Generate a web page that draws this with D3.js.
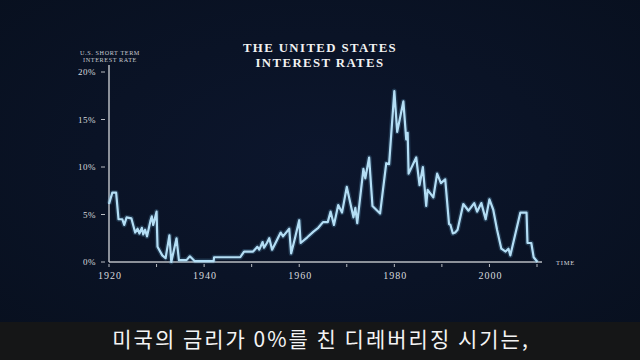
<!DOCTYPE html>
<html><head><meta charset="utf-8">
<script src="https://cdn.jsdelivr.net/npm/d3@7"></script>
<style>
html,body{margin:0;padding:0;background:#0a1326;}
svg{display:block;}
</style></head>
<body>
<svg id="c" width="640" height="360"></svg>
<script>
const years = [1920.0,1920.7,1921.5,1922.0,1922.8,1923.2,1923.7,1924.7,1925.5,1926.0,1926.4,1926.9,1927.2,1927.6,1928.0,1928.7,1929.0,1929.3,1930.0,1930.2,1931.2,1931.9,1932.7,1933.1,1934.2,1934.7,1936.3,1937.0,1938.0,1942.0,1942.1,1947.6,1948.4,1950.3,1951.2,1951.6,1952.3,1952.6,1953.2,1953.7,1954.3,1955.3,1956.1,1956.6,1957.9,1958.3,1959.1,1960.0,1960.3,1961.7,1963.0,1964.0,1965.0,1966.0,1966.6,1967.3,1968.2,1969.0,1970.0,1971.4,1971.8,1972.2,1973.5,1973.9,1974.7,1975.4,1977.0,1978.3,1978.9,1980.0,1980.6,1981.9,1982.5,1982.8,1983.0,1984.6,1985.3,1986.0,1986.7,1987.0,1988.2,1989.0,1989.8,1990.7,1991.5,1991.8,1992.3,1992.8,1993.3,1994.5,1995.6,1996.8,1997.4,1998.3,1999.2,2000.0,2000.8,2001.6,2002.5,2003.4,2004.0,2004.4,2006.5,2007.8,2008.0,2008.8,2009.3,2010.1];
const rates = [6.1,7.3,7.3,4.5,4.5,3.9,4.7,4.6,3.1,3.5,3.0,3.6,2.9,3.4,2.7,4.3,4.8,3.9,5.3,1.6,0.7,0.4,2.8,0.0,2.5,0.2,0.2,0.6,0.1,0.1,0.5,0.5,1.1,1.1,1.6,1.3,2.1,1.5,2.0,2.5,1.3,2.3,3.1,2.7,3.5,0.9,2.5,4.4,2.0,2.6,3.2,3.6,4.2,4.2,5.3,3.9,6.0,5.2,7.9,4.7,5.7,4.1,9.8,8.8,11.0,5.9,5.1,10.4,10.3,18.0,13.7,16.9,12.9,13.6,9.3,11.0,8.1,10.0,5.9,7.6,6.8,9.3,8.3,8.7,4.0,3.9,3.0,3.1,3.4,6.1,5.4,6.2,5.3,6.2,4.5,6.6,5.5,3.4,1.4,1.1,1.4,0.7,5.2,5.2,2.0,2.0,0.5,0.0];
const xTicks = [1920,1930,1940,1950,1960,1970,1980,1990,2000,2010];
const xLabels = [1920,1940,1960,1980,2000];
const yTicks = [0,5,10,15,20];
const titleLines = ["THE UNITED STATES","INTEREST RATES"];
const yTitleLines = ["U.S. SHORT TERM","INTEREST RATE"];
const xTitle = "TIME";
const subtitle = "미국의 금리가 0%를 친 디레버리징 시기는,";

const svg = d3.select("#c");
const bg = svg.append("defs").append("radialGradient").attr("id","bg").attr("cx","50%").attr("cy","45%").attr("r","70%");
bg.append("stop").attr("offset","0%").attr("stop-color","#0c162d");
bg.append("stop").attr("offset","100%").attr("stop-color","#08101f");
svg.append("rect").attr("width",640).attr("height",360).attr("fill","url(#bg)");

const x = d3.scaleLinear().domain([1920,2010]).range([109,537]);
const y = d3.scaleLinear().domain([0,20]).range([262,72]);
const serif = "'Liberation Serif','DejaVu Serif',serif";

// axes lines
svg.append("line").attr("x1",109).attr("x2",109).attr("y1",65).attr("y2",262).attr("stroke","#b9bcc2").attr("stroke-width",1.5);
svg.append("line").attr("x1",109).attr("x2",542).attr("y1",262).attr("y2",262).attr("stroke","#b9bcc2").attr("stroke-width",1.5);

// y ticks
const yg = svg.append("g");
yg.selectAll("line").data(yTicks).join("line")
  .attr("x1",101).attr("x2",105).attr("y1",d=>y(d)).attr("y2",d=>y(d))
  .attr("stroke","#b9bcc2").attr("stroke-width",1);
yg.selectAll("text").data(yTicks).join("text")
  .attr("x",96).attr("y",d=>y(d)).attr("dy","0.35em").attr("text-anchor","end")
  .attr("font-family",serif).attr("font-size",9).attr("fill","#d8dade").attr("letter-spacing",0.5)
  .text(d=>d+"%");

// x ticks
const xg = svg.append("g");
xg.selectAll("line").data(xTicks).join("line")
  .attr("x1",d=>x(d)).attr("x2",d=>x(d)).attr("y1",264).attr("y2",267)
  .attr("stroke","#b9bcc2").attr("stroke-width",1);
xg.selectAll("text").data(xLabels).join("text")
  .attr("x",d=>x(d)+1).attr("y",279).attr("text-anchor","middle")
  .attr("font-family",serif).attr("font-size",10).attr("fill","#d8dade").attr("letter-spacing",1)
  .text(d=>d);

svg.append("text").attr("x",556).attr("y",265).attr("font-family",serif).attr("font-size",6.5)
  .attr("fill","#d8dade").attr("letter-spacing",0.8).text(xTitle);

// titles
svg.selectAll("text.t").data(titleLines).join("text").attr("class","t")
  .attr("x",320).attr("y",(d,i)=>52+i*15).attr("text-anchor","middle")
  .attr("font-family",serif).attr("font-weight","bold").attr("font-size",12.8)
  .attr("letter-spacing",1.4).attr("fill","#f2f2f2").text(d=>d);
svg.selectAll("text.yt").data(yTitleLines).join("text").attr("class","yt")
  .attr("x",110).attr("y",(d,i)=>55+i*7).attr("text-anchor","middle")
  .attr("font-family",serif).attr("font-size",6.2).attr("letter-spacing",0.6)
  .attr("fill","#c9ccd2").text(d=>d);

// line
const pts = years.map((yr,i)=>[yr,rates[i]]);
const line = d3.line().x(d=>x(d[0])).y(d=>y(d[1]));
svg.append("path").datum(pts).attr("d",line).attr("fill","none")
  .attr("stroke","#6fb4e0").attr("stroke-opacity",0.22).attr("stroke-width",5).attr("stroke-linejoin","round");
svg.append("path").datum(pts).attr("d",line).attr("fill","none")
  .attr("stroke","#b4def5").attr("stroke-width",2.2).attr("stroke-linejoin","round");

// subtitle band
svg.append("rect").attr("x",0).attr("y",322).attr("width",640).attr("height",38).attr("fill","#151617");
svg.append("text").attr("x",321).attr("y",347).attr("text-anchor","middle")
  .attr("font-family","'Noto Sans CJK KR',sans-serif").attr("font-size",21).attr("letter-spacing",2)
  .attr("fill","#f4f4f4").text(subtitle);
</script>
</body></html>
